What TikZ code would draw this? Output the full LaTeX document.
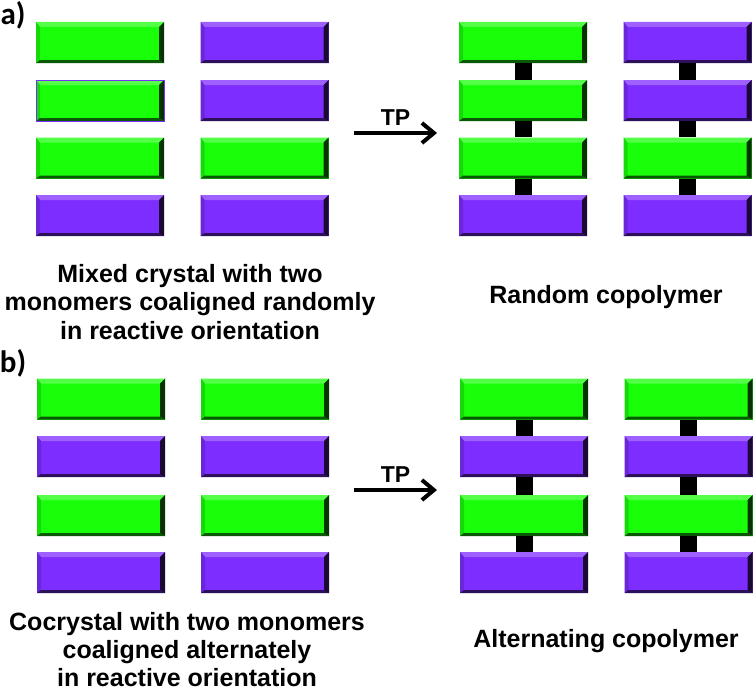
\documentclass[tikz,border=0pt]{standalone}
\usepackage{fontspec}
\setmainfont{Liberation Sans}
\newfontfamily\labfont{Carlito}
\usetikzlibrary{arrows.meta}
\definecolor{monoG}{RGB}{25,255,10}
\definecolor{monoP}{RGB}{125,45,255}

\begin{document}
\begin{tikzpicture}[x=1pt,y=-1pt,>/.tip={Straight Barb[length=12pt,width=20pt]},
	mono/.style={rectangle,minimum width=128pt,minimum height=41pt,inner sep=0pt,fill=#1,
		path picture={
			\path (path picture bounding box.north west) coordinate (pnw)
				(path picture bounding box.north east) coordinate (pne)
				(path picture bounding box.south west) coordinate (psw)
				(path picture bounding box.south east) coordinate (pse);
			% bevel: top, left, bottom, right
			\fill[#1!75!white] (pnw) -- (pne) -- ([shift={(-5pt,-5pt)}]pne) -- ([shift={(4pt,-5pt)}]pnw) -- cycle;
			\fill[#1!85!black] (pnw) -- ([shift={(4pt,-5pt)}]pnw) -- ([shift={(4pt,3pt)}]psw) -- (psw) -- cycle;
			\fill[#1!35!black] (psw) -- (pse) -- ([shift={(-5pt,3pt)}]pse) -- ([shift={(4pt,3pt)}]psw) -- cycle;
			\fill[#1!20!black] (pne) -- (pse) -- ([shift={(-5pt,3pt)}]pse) -- ([shift={(-5pt,-5pt)}]pne) -- cycle;
		}},
	link/.style={line width=17pt,black},
	caption/.style={font=\bfseries\fontsize{25}{28.5}\selectfont,align=center,inner sep=0pt},
	tag/.style={font=\labfont\bfseries\fontsize{31}{33}\selectfont,inner sep=0pt},
	tp/.style={font=\bfseries\fontsize{23}{25}\selectfont,above=6pt,inner sep=0pt}]
	\useasboundingbox (0,0) rectangle (754,693);

	% a) mixed crystal
	\node[tag] (ta) at (13,15) {a)};
	\node[mono=monoG] (am11) at (100,42.5) {};
	\node[mono=monoG,draw=monoP,line width=1pt] (am12) at (100,100.5) {};
	\node[mono=monoG] (am13) at (100,158) {};
	\node[mono=monoP] (am14) at (100,215.5) {};
	\node[mono=monoP] (am21) at (264.5,42.5) {};
	\node[mono=monoP] (am22) at (264.5,100.5) {};
	\node[mono=monoG] (am23) at (264.5,158) {};
	\node[mono=monoP] (am24) at (264.5,215.5) {};
	\node[caption] (ca1) at (190,302) {Mixed crystal with two\\monomers coaligned randomly\\in reactive orientation};

	% a) random copolymer
	\node[mono=monoG] (ap11) at (523,42.5) {};
	\node[mono=monoG] (ap12) at (523,100.5) {};
	\node[mono=monoG] (ap13) at (523,158) {};
	\node[mono=monoP] (ap14) at (523,215.5) {};
	\node[mono=monoP] (ap21) at (687.5,42.5) {};
	\node[mono=monoP] (ap22) at (687.5,100.5) {};
	\node[mono=monoG] (ap23) at (687.5,158) {};
	\node[mono=monoP] (ap24) at (687.5,215.5) {};
	\node[caption,anchor=base] (ca2) at (606,303) {Random copolymer};

	\coordinate (aTs) at (354,133);
	\coordinate (aTe) at (437,133);
	\draw[->,line width=4pt] (aTs) -- node[tp] {TP} (aTe);

	% b) cocrystal
	\node[tag] (tb) at (13,363) {b)};
	\node[mono=monoG] (bm11) at (101,399) {};
	\node[mono=monoP] (bm12) at (101,456.5) {};
	\node[mono=monoG] (bm13) at (101,515.5) {};
	\node[mono=monoP] (bm14) at (101,572.5) {};
	\node[mono=monoG] (bm21) at (265,399) {};
	\node[mono=monoP] (bm22) at (265,456.5) {};
	\node[mono=monoG] (bm23) at (265,515.5) {};
	\node[mono=monoP] (bm24) at (265,572.5) {};
	\node[caption,font=\bfseries\fontsize{25}{28}\selectfont] (cb1) at (187,650) {Cocrystal with two monomers\\coaligned alternately\\in reactive orientation};

	% b) alternating copolymer
	\node[mono=monoG] (bp11) at (524,399) {};
	\node[mono=monoP] (bp12) at (524,456.5) {};
	\node[mono=monoG] (bp13) at (524,515.5) {};
	\node[mono=monoP] (bp14) at (524,572.5) {};
	\node[mono=monoG] (bp21) at (688.5,399) {};
	\node[mono=monoP] (bp22) at (688.5,456.5) {};
	\node[mono=monoG] (bp23) at (688.5,515.5) {};
	\node[mono=monoP] (bp24) at (688.5,572.5) {};
	\node[caption,anchor=base] (cb2) at (606,647) {Alternating copolymer};

	\coordinate (bTs) at (354,490);
	\coordinate (bTe) at (437,490);
	\draw[->,line width=4pt] (bTs) -- node[tp] {TP} (bTe);

	% links between stacked monomers
	\draw[link] (ap11.south) -- (ap12.north);
	\draw[link] (ap12.south) -- (ap13.north);
	\draw[link] (ap13.south) -- (ap14.north);
	\draw[link] (ap21.south) -- (ap22.north);
	\draw[link] (ap22.south) -- (ap23.north);
	\draw[link] (ap23.south) -- (ap24.north);
	\draw[link] (bp11.south) -- (bp12.north);
	\draw[link] (bp12.south) -- (bp13.north);
	\draw[link] (bp13.south) -- (bp14.north);
	\draw[link] (bp21.south) -- (bp22.north);
	\draw[link] (bp22.south) -- (bp23.north);
	\draw[link] (bp23.south) -- (bp24.north);
\end{tikzpicture}
\end{document}
